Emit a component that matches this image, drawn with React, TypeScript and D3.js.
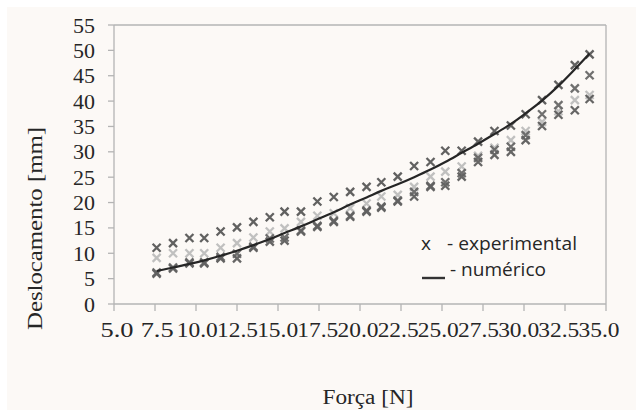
import React from 'react';
import * as d3 from 'd3';

// Força [N] at each load step
const forca = [7.6, 8.6, 9.6, 10.5, 11.5, 12.5, 13.5, 14.5, 15.4, 16.4, 17.4, 18.4, 19.4, 20.4,
  21.3, 22.3, 23.3, 24.3, 25.2, 26.2, 27.2, 28.2, 29.2, 30.1, 31.1, 32.1, 33.1, 34.0];

// experimental series (deslocamento, mm)
const expTop = [11.1, 12.0, 13.0, 13.0, 14.3, 15.1, 16.2, 17.1, 18.2, 18.2, 20.2, 21.1, 22.1, 23.1,
  24.0, 25.1, 27.2, 28.0, 30.2, 30.2, 32.0, 34.1, 35.2, 37.4, 40.2, 43.2, 47.1, 49.2];
const expLight = [9.1, 10.0, 10.0, 10.0, 11.1, 12.0, 13.1, 14.3, 14.9, 16.2, 17.4, 17.9, 18.9, 19.8,
  21.2, 21.5, 23.1, 25.1, 26.1, 27.1, 29.2, 30.8, 32.3, 34.1, 35.9, 38.0, 40.2, 41.2];
const expLow = [6.0, 7.0, 8.0, 8.0, 9.0, 9.0, 11.1, 12.3, 12.5, 14.3, 15.2, 16.2, 17.2, 18.2,
  19.0, 20.2, 21.2, 23.1, 23.3, 25.1, 28.0, 29.4, 30.0, 32.3, 35.1, 37.3, 38.2, 40.4];
const expLow2 = [6.2, 7.2, 8.2, 8.2, 9.3, 9.9, 11.3, 12.9, 13.1, 14.5, 15.4, 16.4, 17.4, 18.4,
  19.2, 20.4, 22.1, 23.3, 24.0, 25.8, 28.8, 30.4, 31.0, 33.3, 37.4, 39.2, 42.5, 45.1];

// numerical model
const numerico = [6.5, 7.2, 7.9, 8.6, 9.5, 10.5, 11.6, 12.8, 14.0, 15.3, 16.7, 18.1, 19.6, 21.0,
  22.3, 23.6, 25.0, 26.5, 28.0, 29.8, 31.6, 33.5, 35.5, 37.6, 40.1, 43.0, 46.3, 49.4];

const xTicks = [5, 7.5, 10, 12.5, 15, 17.5, 20, 22.5, 25, 27.5, 30, 32.5, 35];
const yTicks = [0, 5, 10, 15, 20, 25, 30, 35, 40, 45, 50, 55];

const W = 636;
const H = 410;
const left = 114, right = 606, top = 25, bottom = 304;

const axisColor = '#b4b4b4';
const textColor = '#262626';
const serif = "'Liberation Serif', 'Times New Roman', Times, serif";
const sans = "'Open Sans', 'Liberation Sans', sans-serif";

const series = [
  { values: expLight, color: '#b9b9b9' },
  { values: expLow, color: '#555' },
  { values: expLow2, color: '#606060' },
  { values: expTop, color: '#505050' },
];

const Cross = ({ cx, cy, color }: { cx: number; cy: number; color: string }) => {
  const s = 4;
  return (
    <path
      d={`M${cx - s},${cy - s}L${cx + s},${cy + s}M${cx - s},${cy + s}L${cx + s},${cy - s}`}
      stroke={color}
      strokeWidth={2.3}
      fill="none"
      opacity={0.9}
    />
  );
};

export default function App() {
  const x = d3.scaleLinear().domain([5, 35]).range([left, right]);
  const y = d3.scaleLinear().domain([0, 55]).range([bottom, top]);
  // tick labels sit a bit off the ticks in the original
  const xLab = d3.scaleLinear().domain([5, 35]).range([117, 599]);

  const line = d3.line<number>()
    .x((_, i) => x(forca[i]))
    .y(d => y(d))
    .curve(d3.curveMonotoneX);

  const serifStyle = { fontFamily: serif };
  const sansStyle = { fontFamily: sans };

  return (
    <svg width={W} height={H} style={{ position: 'absolute', left: 0, top: 0 }}>
      <rect x={0} y={0} width={W} height={H} fill="#fff" />
      <rect x={7} y={7} width={W - 7} height={H - 7} fill="#fcf9f6" />

      {/* plot frame */}
      <line x1={left} x2={right} y1={top} y2={top} stroke={axisColor} strokeWidth={1.3} />
      <line x1={right} x2={right} y1={top} y2={bottom} stroke={axisColor} strokeWidth={1.3} />

      {/* y axis */}
      <line x1={left} x2={left} y1={top} y2={bottom} stroke={axisColor} strokeWidth={1.3} />
      {yTicks.map(t => (
        <g key={t}>
          <line x1={left - 6} x2={left} y1={y(t)} y2={y(t)} stroke={axisColor} strokeWidth={1.3} />
          <text x={95} y={y(t) + 7.5} textAnchor="end" style={serifStyle} fontSize={20} fill={textColor}
            textLength={String(t).length * 11} lengthAdjust="spacingAndGlyphs">{t}</text>
        </g>
      ))}

      {/* x axis */}
      <line x1={left} x2={right} y1={bottom} y2={bottom} stroke={axisColor} strokeWidth={1.3} />
      {xTicks.map(t => {
        const label = t.toFixed(1);
        return (
          <g key={t}>
            <line x1={x(t)} x2={x(t)} y1={bottom} y2={bottom + 7} stroke={axisColor} strokeWidth={1.3} />
            <text x={xLab(t)} y={337} textAnchor="middle" style={serifStyle} fontSize={20} fill={textColor}
              textLength={label.length === 3 ? 33 : 41} lengthAdjust="spacingAndGlyphs">{label}</text>
          </g>
        );
      })}

      {/* experimental markers */}
      {series.map((s, k) => (
        <g key={k}>
          {s.values.map((v, i) => (
            <Cross key={i} cx={x(forca[i])} cy={y(v)} color={s.color} />
          ))}
        </g>
      ))}

      {/* numerical curve */}
      <path d={line(numerico) ?? ''} fill="none" stroke="#262626" strokeWidth={2.2} />

      {/* legend */}
      <text x={421} y={250} style={sansStyle} fontSize={19} fill={textColor}>x</text>
      <text x={447} y={250} style={sansStyle} fontSize={19} fill={textColor}
        textLength={130} lengthAdjust="spacingAndGlyphs">- experimental</text>
      <line x1={422} x2={445} y1={278} y2={278} stroke="#333" strokeWidth={2.4} />
      <text x={450} y={276} style={sansStyle} fontSize={19} fill={textColor}
        textLength={96} lengthAdjust="spacingAndGlyphs">- numérico</text>

      {/* axis titles */}
      <text transform="translate(42,228.5) rotate(-90)" textAnchor="middle" style={serifStyle} fontSize={20}
        fill={textColor} textLength={203} lengthAdjust="spacingAndGlyphs">Deslocamento [mm]</text>
      <text x={368} y={404} textAnchor="middle" style={serifStyle} fontSize={20} fill={textColor}
        textLength={91} lengthAdjust="spacingAndGlyphs">Força [N]</text>
    </svg>
  );
}
